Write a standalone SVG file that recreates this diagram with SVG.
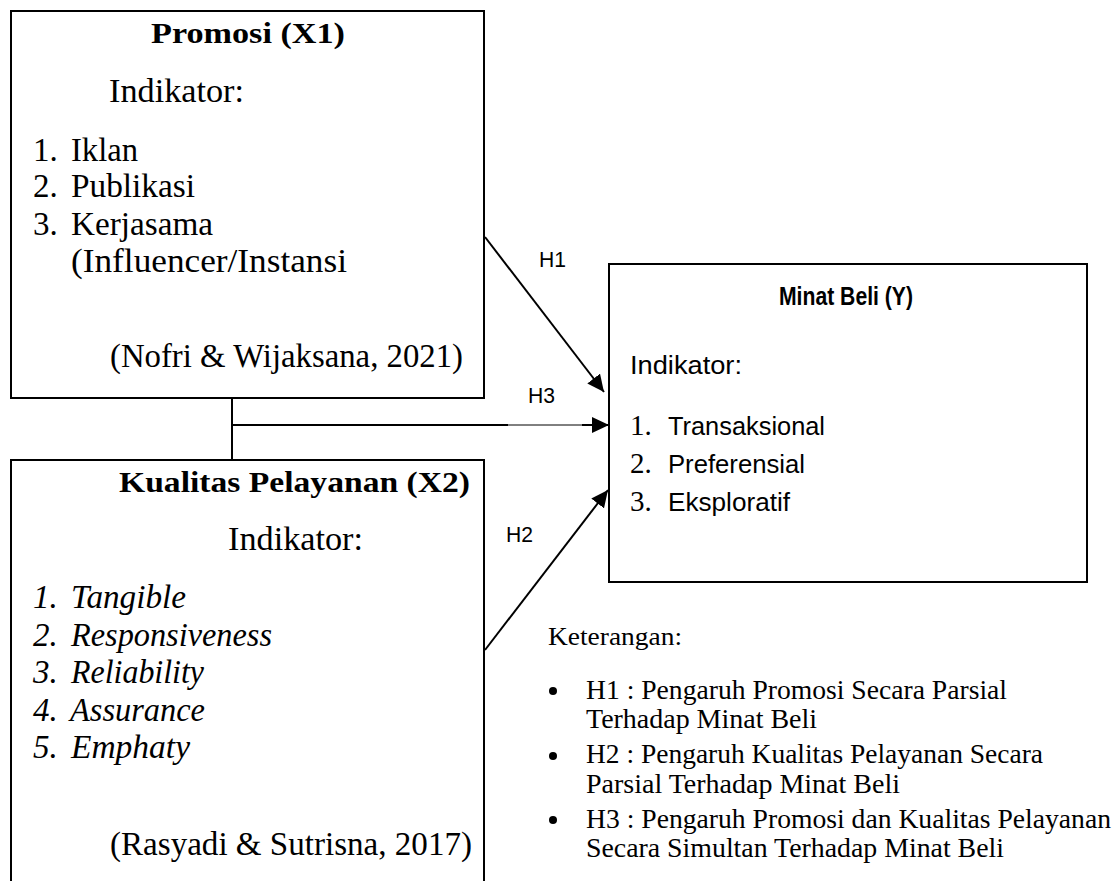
<svg xmlns="http://www.w3.org/2000/svg" width="1115" height="881" viewBox="0 0 1115 881">
<style>
.box{fill:#fff;stroke:#000;stroke-width:2}
.sr{font-family:"Liberation Serif","Times New Roman",serif;fill:#000}
.ss{font-family:"Liberation Sans",Arial,sans-serif;fill:#000}
.b{font-weight:bold}
.i{font-style:italic}
.ln{stroke:#000;stroke-width:2;fill:none}
</style>
<defs>
<marker id="arr" markerUnits="userSpaceOnUse" markerWidth="18" markerHeight="16" viewBox="0 0 18 16" refX="17" refY="8" orient="auto">
<path d="M0,0 L17,8 L0,16 z" fill="#000"/>
</marker>
</defs>
<rect width="1115" height="881" fill="#fff"/>
<g id="node-promosi">
<rect class="box" x="11" y="11" width="473" height="387"/>
<text class="sr b" x="151" y="43" font-size="30" textLength="194" lengthAdjust="spacingAndGlyphs">Promosi (X1)</text>
<text class="sr" x="109" y="102" font-size="33" textLength="135" lengthAdjust="spacingAndGlyphs">Indikator:</text>
<text class="sr" x="33" y="161" font-size="33">1.</text>
<text class="sr" x="71" y="161" font-size="33" textLength="67" lengthAdjust="spacingAndGlyphs">Iklan</text>
<text class="sr" x="33" y="197" font-size="33">2.</text>
<text class="sr" x="71" y="197" font-size="33" textLength="124" lengthAdjust="spacingAndGlyphs">Publikasi</text>
<text class="sr" x="33" y="235" font-size="33">3.</text>
<text class="sr" x="71" y="235" font-size="33" textLength="142" lengthAdjust="spacingAndGlyphs">Kerjasama</text>
<text class="sr" x="71" y="272" font-size="33" textLength="276" lengthAdjust="spacingAndGlyphs">(Influencer/Instansi</text>
<text class="sr" x="110" y="367" font-size="33" textLength="353" lengthAdjust="spacingAndGlyphs">(Nofri &amp; Wijaksana, 2021)</text>
</g>
<g id="node-kualitas">
<rect class="box" x="11" y="460" width="473" height="440"/>
<text class="sr b" x="119" y="492" font-size="30" textLength="351" lengthAdjust="spacingAndGlyphs">Kualitas Pelayanan (X2)</text>
<text class="sr" x="228" y="550" font-size="33" textLength="135" lengthAdjust="spacingAndGlyphs">Indikator:</text>
<text class="sr i" x="33" y="608" font-size="33">1.</text>
<text class="sr i" x="71" y="608" font-size="33" textLength="115" lengthAdjust="spacingAndGlyphs">Tangible</text>
<text class="sr i" x="33" y="646" font-size="33">2.</text>
<text class="sr i" x="71" y="646" font-size="33" textLength="201" lengthAdjust="spacingAndGlyphs">Responsiveness</text>
<text class="sr i" x="33" y="683" font-size="33">3.</text>
<text class="sr i" x="71" y="683" font-size="33" textLength="133" lengthAdjust="spacingAndGlyphs">Reliability</text>
<text class="sr i" x="33" y="721" font-size="33">4.</text>
<text class="sr i" x="70" y="721" font-size="33" textLength="135" lengthAdjust="spacingAndGlyphs">Assurance</text>
<text class="sr i" x="33" y="758" font-size="33">5.</text>
<text class="sr i" x="71" y="758" font-size="33" textLength="119" lengthAdjust="spacingAndGlyphs">Emphaty</text>
<text class="sr" x="110" y="855" font-size="33" textLength="362" lengthAdjust="spacingAndGlyphs">(Rasyadi &amp; Sutrisna, 2017)</text>
</g>
<g id="node-minat">
<rect class="box" x="609" y="264" width="478" height="318"/>
<text class="ss b" x="779" y="305" font-size="26" textLength="134" lengthAdjust="spacingAndGlyphs">Minat Beli (Y)</text>
<text class="ss" x="630" y="374" font-size="25" textLength="112" lengthAdjust="spacingAndGlyphs">Indikator:</text>
<text class="sr" x="630" y="435" font-size="29">1.</text>
<text class="ss" x="668" y="435" font-size="25" textLength="157" lengthAdjust="spacingAndGlyphs">Transaksional</text>
<text class="sr" x="630" y="473" font-size="29">2.</text>
<text class="ss" x="668" y="473" font-size="25" textLength="137" lengthAdjust="spacingAndGlyphs">Preferensial</text>
<text class="sr" x="630" y="511" font-size="29">3.</text>
<text class="ss" x="668" y="511" font-size="25" textLength="122" lengthAdjust="spacingAndGlyphs">Eksploratif</text>
</g>
<g id="connectors">
<line class="ln" x1="485" y1="237" x2="604" y2="392" marker-end="url(#arr)"/>
<line class="ln" x1="485" y1="650" x2="608" y2="490" marker-end="url(#arr)"/>
<line class="ln" x1="232" y1="398" x2="232" y2="460"/>
<line class="ln" x1="231" y1="425" x2="508" y2="425"/>
<line x1="508" y1="425" x2="583" y2="425" stroke="#000" stroke-width="1"/>
<line class="ln" x1="582" y1="425" x2="609" y2="425" marker-end="url(#arr)"/>
<text class="ss" x="539" y="267" font-size="22" textLength="27" lengthAdjust="spacingAndGlyphs">H1</text>
<text class="ss" x="528" y="403" font-size="22" textLength="27" lengthAdjust="spacingAndGlyphs">H3</text>
<text class="ss" x="506" y="542" font-size="22" textLength="27" lengthAdjust="spacingAndGlyphs">H2</text>
</g>
<g id="legend">
<text class="sr" x="548" y="645" font-size="25" textLength="134" lengthAdjust="spacingAndGlyphs">Keterangan:</text>
<circle cx="553" cy="691" r="4"/>
<circle cx="553" cy="756" r="4"/>
<circle cx="553" cy="820" r="4"/>
<text class="sr" x="586" y="699" font-size="27" textLength="421" lengthAdjust="spacingAndGlyphs">H1 : Pengaruh Promosi Secara Parsial</text>
<text class="sr" x="586" y="728" font-size="27" textLength="231" lengthAdjust="spacingAndGlyphs">Terhadap Minat Beli</text>
<text class="sr" x="586" y="763" font-size="27" textLength="457" lengthAdjust="spacingAndGlyphs">H2 : Pengaruh Kualitas Pelayanan Secara</text>
<text class="sr" x="586" y="793" font-size="27" textLength="314" lengthAdjust="spacingAndGlyphs">Parsial Terhadap Minat Beli</text>
<text class="sr" x="586" y="828" font-size="27" textLength="525" lengthAdjust="spacingAndGlyphs">H3 : Pengaruh Promosi dan Kualitas Pelayanan</text>
<text class="sr" x="586" y="857" font-size="27" textLength="418" lengthAdjust="spacingAndGlyphs">Secara Simultan Terhadap Minat Beli</text>
</g>
</svg>
